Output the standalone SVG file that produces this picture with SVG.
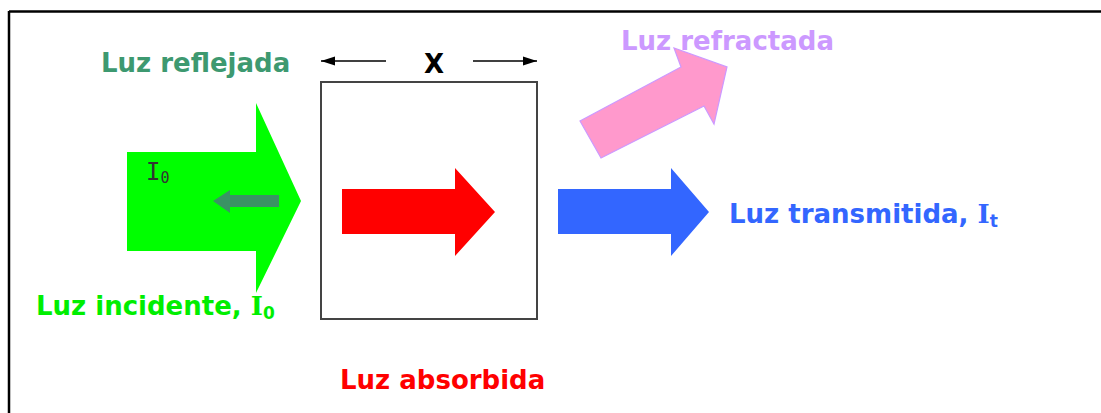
<svg xmlns="http://www.w3.org/2000/svg" width="1101" height="413" viewBox="0 0 1101 413">
<style>
.lbl{font-family:"DejaVu Sans","Verdana",sans-serif;font-weight:bold;font-size:26px}
.ser{font-family:"DejaVu Serif",serif;font-weight:bold}
</style>
<defs>
<marker id="ah" viewBox="0 0 14 10" refX="14" refY="5" markerWidth="14" markerHeight="10" markerUnits="userSpaceOnUse" orient="auto">
<path d="M0,0.5 L14,5 L0,9.5 Z" fill="#000"/>
</marker>
</defs>
<rect width="1101" height="413" fill="#fff"/>
<g id="frame" fill="none" stroke="#000" stroke-width="2.5">
<line x1="9" y1="11.5" x2="1101" y2="11.5"/>
<line x1="9" y1="11" x2="9" y2="413"/>
</g>
<g id="sample">
<rect x="321" y="82" width="216" height="237" fill="#fff" stroke="#444" stroke-width="2"/>
</g>
<g id="incident">
<polygon points="127,152 256,152 256,103 301,201 256,293 256,251 127,251" fill="#00ff00"/>
<text x="146" y="180" font-family="DejaVu Sans Mono,monospace" font-size="24" fill="#333">I<tspan font-size="15" dy="3">0</tspan></text>
<text class="lbl" x="36" y="315" fill="#00ee00">Luz incidente, <tspan class="ser">I</tspan><tspan font-size="17" dy="4">0</tspan></text>
</g>
<g id="reflected">
<polygon points="279,195 230,195 230,190 213,201 230,213 230,207 279,207" fill="#3a9364"/>
<text class="lbl" x="101" y="72" fill="#3d9970">Luz reflejada</text>
</g>
<g id="absorbed">
<polygon points="342,189 455,189 455,168 495,212 455,256 455,234 342,234" fill="#ff0000"/>
<text class="lbl" x="340" y="389" fill="#ff0000">Luz absorbida</text>
</g>
<g id="transmitted">
<polygon points="558,189 671,189 671,168 709,212 671,256 671,234 558,234" fill="#3366ff"/>
<text class="lbl" x="729" y="223" fill="#3366ff">Luz transmitida, <tspan class="ser">I</tspan><tspan font-size="17" dy="4">t</tspan></text>
</g>
<g id="refracted">
<polygon points="580,121 601,158 704,106 714,124 727,67 674,48 681,67" fill="#ff99cc" stroke="#cc99ff" stroke-width="1.2"/>
<text class="lbl" x="621" y="50" fill="#cc99ff">Luz refractada</text>
</g>
<g id="width-x">
<text class="lbl" x="434" y="73" text-anchor="middle" fill="#000">X</text>
</g>
<g id="connectors" stroke="#000" stroke-width="1.6" fill="none">
<line x1="386" y1="61" x2="321" y2="61" marker-end="url(#ah)"/>
<line x1="473" y1="61" x2="537" y2="61" marker-end="url(#ah)"/>
</g>
</svg>
